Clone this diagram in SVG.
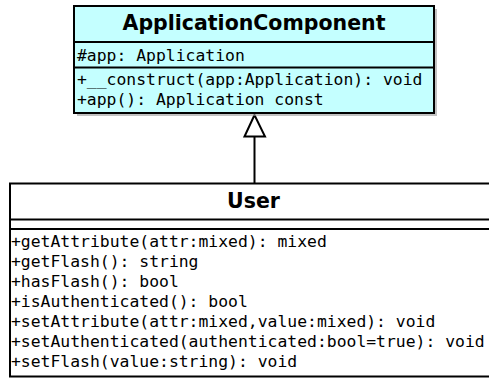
<svg xmlns="http://www.w3.org/2000/svg" width="489" height="378" viewBox="0 0 489 378">
<style>
.box{stroke:#000;stroke-width:2}
.shadow{fill:#999;opacity:0.6}
.title{font-family:"DejaVu Sans",sans-serif;font-weight:bold;font-size:20.5px;text-anchor:middle;fill:#000}
.mem{font-family:"DejaVu Sans Mono",monospace;font-size:16.4px;fill:#000}
.div{stroke:#000;stroke-width:2}
.conn{stroke:#000;stroke-width:2;fill:none}
</style>
<g id="connectors">
<line class="conn" x1="254.5" y1="136" x2="254.5" y2="183"/>
<polygon points="254.5,115 244.5,136.5 265,136.5" fill="#fff" stroke="#000" stroke-width="2"/>
</g>
<g id="ApplicationComponent">
<rect class="shadow" x="77" y="9" width="360" height="107"/>
<rect class="box" x="74" y="6" width="360" height="107" fill="#c4ffff"/>
<line class="div" x1="74" y1="42" x2="434" y2="42"/>
<line class="div" x1="74" y1="67.5" x2="434" y2="67.5"/>
<text class="title" x="254" y="30">ApplicationComponent</text>
<text class="mem" x="77" y="61">#app: Application</text>
<text class="mem" x="77" y="85">+__construct(app:Application): void</text>
<text class="mem" x="77" y="105">+app(): Application const</text>
</g>
<g id="User">
<rect class="box" x="10" y="183.5" width="487" height="193" fill="#fff"/>
<line class="div" x1="10" y1="219.5" x2="497" y2="219.5"/>
<line class="div" x1="10" y1="229" x2="497" y2="229"/>
<text class="title" x="253.5" y="208">User</text>
<text class="mem" x="11" y="247">+getAttribute(attr:mixed): mixed</text>
<text class="mem" x="11" y="267">+getFlash(): string</text>
<text class="mem" x="11" y="287">+hasFlash(): bool</text>
<text class="mem" x="11" y="307">+isAuthenticated(): bool</text>
<text class="mem" x="11" y="327">+setAttribute(attr:mixed,value:mixed): void</text>
<text class="mem" x="11" y="347">+setAuthenticated(authenticated:bool=true): void</text>
<text class="mem" x="11" y="367">+setFlash(value:string): void</text>
</g>
</svg>
